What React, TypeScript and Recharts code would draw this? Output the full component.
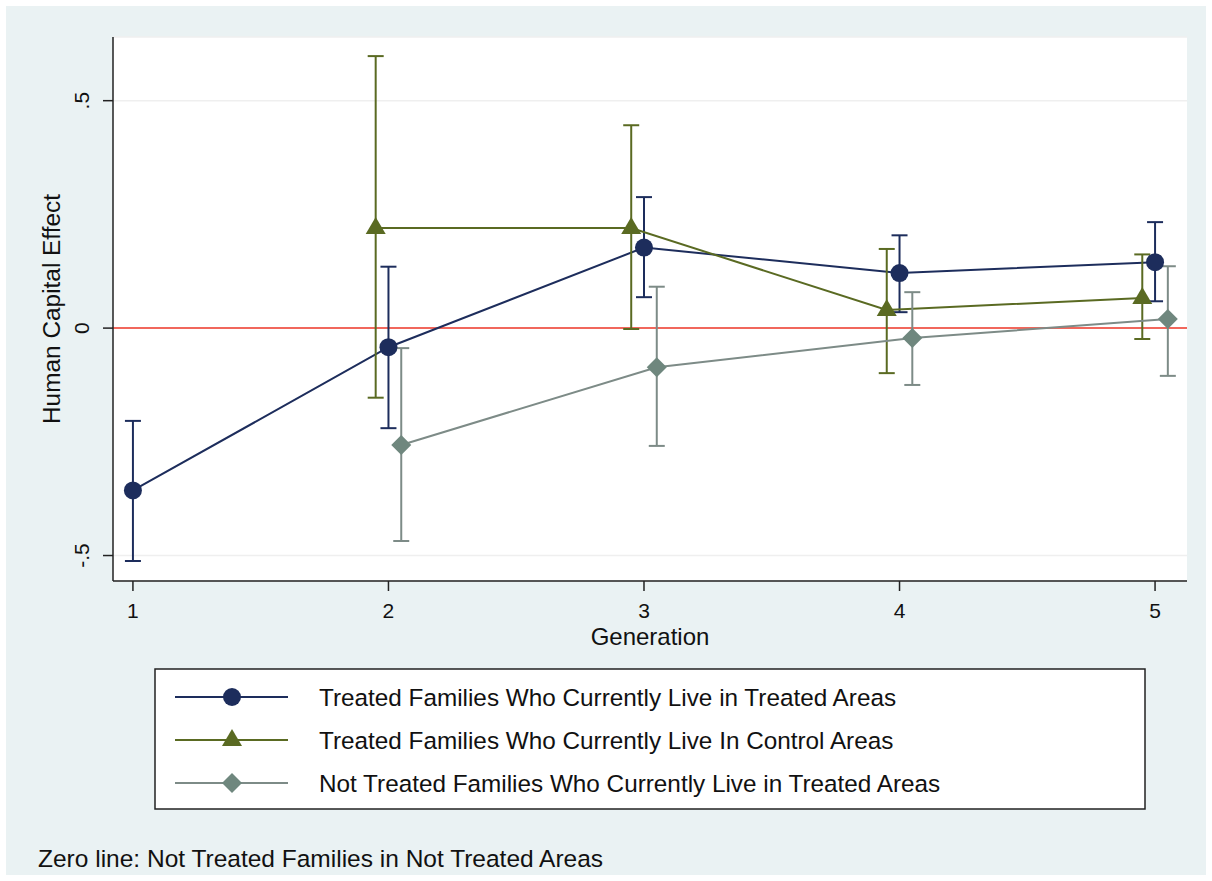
import { ComposedChart, Line, XAxis, YAxis, CartesianGrid, ErrorBar, ReferenceLine } from 'recharts'

const generations = [1, 2, 3, 4, 5]
const laterGenerations = [2, 3, 4, 5]
const genTicks = [1, 2, 3, 4, 5]
const effectTicks = [-0.5, 0, 0.5]

// treated families, currently living in treated areas
const ttEst = [-0.357, -0.042, 0.177, 0.121, 0.145]
const ttLow = [-0.512, -0.22, 0.068, 0.035, 0.059]
const ttHigh = [-0.204, 0.135, 0.288, 0.204, 0.233]

// treated families, currently living in control areas
const tcEst = [0.22, 0.22, 0.04, 0.066]
const tcLow = [-0.153, -0.002, -0.099, -0.024]
const tcHigh = [0.598, 0.446, 0.174, 0.162]

// not treated families, currently living in treated areas
const ntEst = [-0.257, -0.086, -0.022, 0.02]
const ntLow = [-0.468, -0.259, -0.125, -0.105]
const ntHigh = [-0.044, 0.091, 0.079, 0.136]

const legendLabels = [
    'Treated Families Who Currently Live in Treated Areas',
    'Treated Families Who Currently Live In Control Areas',
    'Not Treated Families Who Currently Live in Treated Areas',
]
const note = 'Zero line: Not Treated Families in Not Treated Areas'

const NAVY = '#1d2d5c'
const OLIVE = '#5a6a22'
const GREY = '#7d8b87'
const GREY_FILL = '#6f877e'
const FONT = '"Liberation Sans", Arial, Helvetica, sans-serif'

// small horizontal jitter so the three series don't sit on top of each other
const build = (gens: number[], shift: number, est: number[], lo: number[], hi: number[]) =>
    gens.map((g, i) => ({ gen: g + shift, est: est[i], ci: [est[i] - lo[i], hi[i] - est[i]] }))

const ttData = build(generations, 0, ttEst, ttLow, ttHigh)
const tcData = build(laterGenerations, -0.05, tcEst, tcLow, tcHigh)
const ntData = build(laterGenerations, 0.05, ntEst, ntLow, ntHigh)

const CircleMark = ({ cx, cy, fill }: any) => <circle cx={cx} cy={cy} r={9} fill={fill} />
const TriangleMark = ({ cx, cy, fill }: any) => (
    <polygon points={`${cx},${cy - 11} ${cx + 10},${cy + 6} ${cx - 10},${cy + 6}`} fill={fill} />
)
const DiamondMark = ({ cx, cy, fill }: any) => (
    <polygon points={`${cx},${cy - 10} ${cx + 10},${cy} ${cx},${cy + 10} ${cx - 10},${cy}`} fill={fill} />
)

const fmtEffect = (v: number) => (v === 0 ? '0' : v.toString().replace('0.', '.'))

const YTick = ({ x, y, payload }: any) => (
    <text x={x - 14} y={y} transform={`rotate(-90 ${x - 14} ${y})`} textAnchor="middle"
        fontSize={21} fontFamily={FONT} fill="#111">
        {fmtEffect(payload.value)}
    </text>
)

const legendRows = [
    { label: legendLabels[0], color: NAVY, mark: <CircleMark cx={232} cy={0} fill={NAVY} /> },
    { label: legendLabels[1], color: OLIVE, mark: <TriangleMark cx={232} cy={0} fill={OLIVE} /> },
    { label: legendLabels[2], color: GREY, mark: <DiamondMark cx={232} cy={0} fill={GREY_FILL} /> },
]

export default function App() {
    return (
        <div style={{ position: 'absolute', left: 0, top: 0, width: 1212, height: 881, background: '#fff' }}>
            <div style={{ position: 'absolute', left: 6, top: 6, right: 6, bottom: 6, background: '#eaf2f3' }} />
            <div style={{ position: 'absolute', left: 0, top: 0 }}>
                <ComposedChart width={1212} height={660} margin={{ top: 37, right: 25, bottom: 9, left: 0 }}
                    style={{ fontFamily: FONT }}>
                    <CartesianGrid vertical={false} fill="#fff" fillOpacity={1} stroke="#efefef" strokeWidth={1.5} />
                    <XAxis dataKey="gen" type="number" domain={[0.922, 5.125]} ticks={genTicks}
                        allowDataOverflow height={70} tickSize={10} tickMargin={12}
                        tick={{ fontSize: 21, fill: '#111', fontFamily: FONT }}
                        axisLine={{ stroke: '#222', strokeWidth: 1.5 }} tickLine={{ stroke: '#222', strokeWidth: 1.5 }}
                        label={{ value: 'Generation', position: 'insideBottom', offset: 6, fontSize: 24, fill: '#111', fontFamily: FONT }} />
                    <YAxis type="number" domain={[-0.556, 0.64]} ticks={effectTicks} allowDataOverflow width={113}
                        tickSize={10} tickMargin={0} tick={<YTick />}
                        axisLine={{ stroke: '#222', strokeWidth: 1.5 }} tickLine={{ stroke: '#222', strokeWidth: 1.5 }}
                        label={{ value: 'Human Capital Effect', angle: -90, position: 'center', dx: -5, fontSize: 24.4, fill: '#111', fontFamily: FONT }} />
                    <ReferenceLine y={0} stroke="#f0382a" strokeWidth={1.5} ifOverflow="visible" />

                    <Line data={ttData} dataKey="est" stroke={NAVY} strokeWidth={2} isAnimationActive={false}
                        dot={(p: any) => <CircleMark key={p.index} cx={p.cx} cy={p.cy} fill={NAVY} />} activeDot={false}>
                        <ErrorBar dataKey="ci" direction="y" width={8} stroke={NAVY} strokeWidth={2} isAnimationActive={false} />
                    </Line>
                    <Line data={tcData} dataKey="est" stroke={OLIVE} strokeWidth={2} isAnimationActive={false}
                        dot={(p: any) => <TriangleMark key={p.index} cx={p.cx} cy={p.cy} fill={OLIVE} />} activeDot={false}>
                        <ErrorBar dataKey="ci" direction="y" width={8} stroke={OLIVE} strokeWidth={2} isAnimationActive={false} />
                    </Line>
                    <Line data={ntData} dataKey="est" stroke={GREY} strokeWidth={2} isAnimationActive={false}
                        dot={(p: any) => <DiamondMark key={p.index} cx={p.cx} cy={p.cy} fill={GREY_FILL} />} activeDot={false}>
                        <ErrorBar dataKey="ci" direction="y" width={8} stroke={GREY} strokeWidth={2} isAnimationActive={false} />
                    </Line>
                </ComposedChart>
            </div>

            {/* legend box and footnote */}
            <svg width={1212} height={881} style={{ position: 'absolute', left: 0, top: 0, pointerEvents: 'none' }}>
                <rect x={155} y={669} width={990} height={140} fill="#fff" stroke="#222" strokeWidth={1.5} />
                {legendRows.map((r, i) => (
                    <g key={r.label} transform={`translate(0 ${697 + i * 43})`}>
                        <line x1={175} x2={288} y1={0} y2={0} stroke={r.color} strokeWidth={2} />
                        {r.mark}
                        <text x={319} y={9} fontSize={24.3} fontFamily={FONT} fill="#111">{r.label}</text>
                    </g>
                ))}
                <text x={38} y={867} fontSize={24.5} fontFamily={FONT} fill="#111">{note}</text>
            </svg>
        </div>
    )
}
